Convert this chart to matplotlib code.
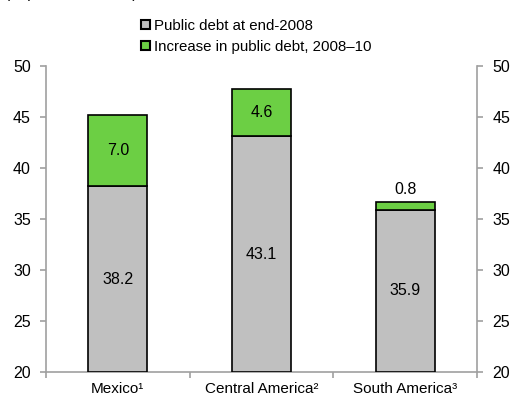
import numpy as np
import matplotlib
matplotlib.use("Agg")
import matplotlib.pyplot as plt
from matplotlib.patches import Patch

plt.rcParams['font.family'] = ['Liberation Sans', 'DejaVu Sans']

regions = ["Mexico\u00b9", "Central America\u00b2", "South America\u00b3"]
debt_2008 = [38.2, 43.1, 35.9]
increase = [7.0, 4.6, 0.8]

grey = "#C0C0C0"
green = "#6CCF44"

fig = plt.figure(figsize=(5.11, 4.01), dpi=100)
ax = fig.add_axes([46/511, 1 - 372/401, 431/511, 306/401])

x = np.arange(len(regions))
ax.bar(x, np.array(debt_2008) - 20, bottom=20, width=0.41, color=grey, edgecolor="black", lw=1.2, zorder=3)
ax.bar(x, increase, bottom=debt_2008, width=0.41, color=green, edgecolor="black", lw=1.2, zorder=3)

for i in range(len(regions)):
    ax.text(x[i], (20 + debt_2008[i]) / 2, f"{debt_2008[i]:.1f}", ha="center", va="center", fontsize=11.5)
    if increase[i] > 2:
        ax.text(x[i], debt_2008[i] + increase[i] / 2, f"{increase[i]:.1f}", ha="center", va="center", fontsize=11.5)
    else:
        ax.text(x[i], debt_2008[i] + increase[i] + 0.5, f"{increase[i]:.1f}", ha="center", va="bottom", fontsize=11.5)

ax.set_xlim(-0.5, 2.5)
ax.set_ylim(20, 50)
ax.set_yticks(range(20, 51, 5))
ax.set_xticks(x)
ax.set_xticklabels(regions, fontsize=11)
ax.set_xticks([-0.5, 0.5, 1.5, 2.5], minor=True)
ax.tick_params(axis="x", which="major", length=0, pad=7)
ax.tick_params(axis="x", which="minor", length=4, color="#A0A0A0", width=1.2)
ax.tick_params(axis="y", labelsize=11.5, length=4, color="#A0A0A0", width=1.2, pad=7,
               left=True, right=True, labelleft=True, labelright=True)
for s in ax.spines.values():
    s.set_color("#A0A0A0")
    s.set_linewidth(1.2)
ax.spines["top"].set_visible(False)

handles = [Patch(facecolor=grey, edgecolor="black", lw=1.5, label="Public debt at end-2008"),
           Patch(facecolor=green, edgecolor="black", lw=1.5, label="Increase in public debt, 2008\u201310")]
fig.legend(handles=handles, loc="upper left", bbox_to_anchor=(141/511, 1 - 19/401), frameon=False,
           fontsize=10.8, handlelength=0.6, handleheight=0.55, handletextpad=0.3, labelspacing=0.45,
           borderaxespad=0, borderpad=0)

fig.text(5/511, 1 + 6/401, "(In percent of GDP)", fontsize=11, va="center")

plt.savefig("out.png", dpi=100)
